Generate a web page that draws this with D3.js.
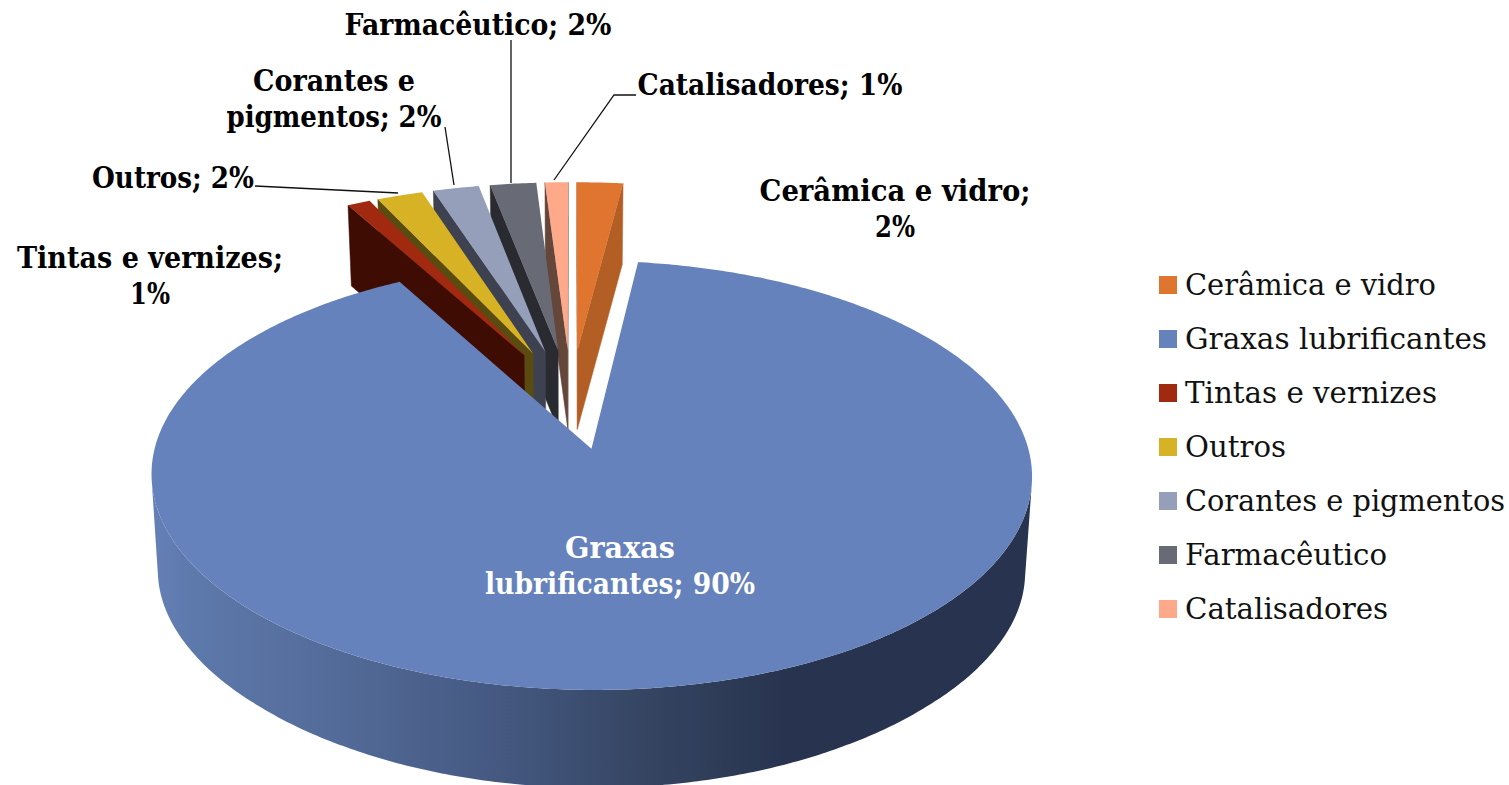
<!DOCTYPE html>
<html><head><meta charset="utf-8">
<style>html,body{margin:0;padding:0;background:#fff;overflow:hidden}svg{display:block}text{font-family:"DejaVu Serif",serif}</style>
<script src="https://cdn.jsdelivr.net/npm/d3@7"></script></head>
<body><svg id="c" width="1509" height="785"></svg>
<script>
const categories=["Cerâmica e vidro","Graxas lubrificantes","Tintas e vernizes","Outros","Corantes e pigmentos","Farmacêutico","Catalisadores"];
const values=[2,90,1,2,2,2,1];
const topColors=["#DF752E","#6682BC","#A0290F","#D6B224","#959FBA","#686B75","#FFA98B"];
const wallColors=["#B35E25","#2A3552","#3F0C04","#5A4C10","#3E4250","#2A2B30","#65463A"];
const labelLines=[["Cerâmica e vidro;","2%"],["Graxas","lubrificantes; 90%"],["Tintas e vernizes;","1%"],["Outros; 2%"],["Corantes e","pigmentos; 2%"],["Farmacêutico; 2%"],["Catalisadores; 1%"]];

const svg=d3.select("#c");
const W={cx:571,cy:398.5,rx:424,a:199,k:0.12,explode:0.25};
const pie=d3.pie().value(d=>d).sort(null).startAngle(0).endAngle(2*Math.PI);
const arcs=pie(values);
const depth=d3.scaleLinear().domain([-1.25,-1.1,-0.95,-0.7,-0.3,0.25,1.25]).range([98,95.5,94,94,96,79,81]);

const proj=(u,v,z=0)=>{
  const d=1+W.k*v;
  let x=W.cx+W.rx*u/d, y=W.cy-W.a*v/d;
  if(z){x=W.cx+(x-W.cx)*0.985; y+=depth(v);}
  return [x,y];
};
const area=p=>d3.polygonArea(p);
const line=d3.line();

function geom(a){
  const m=(a.startAngle+a.endAngle)/2;
  const ou=W.explode*Math.sin(m), ov=W.explode*Math.cos(m);
  const n=Math.max(4,Math.round((a.endAngle-a.startAngle)/0.01));
  const ang=d3.scaleLinear().domain([0,n]).range([a.startAngle,a.endAngle]);
  const rim=d3.range(n+1).map(i=>[ou+Math.sin(ang(i)),ov+Math.cos(ang(i))]);
  return {ou,ov,rim};
}

const grad=svg.append("defs").append("linearGradient").attr("id","wall")
  .attr("gradientUnits","userSpaceOnUse").attr("x1",151).attr("x2",1031).attr("y1",0).attr("y2",0);
[[0,"#6480B6"],[0.06,"#5C77A9"],[0.2,"#546C9A"],[0.4,"#445880"],[0.58,"#33435F"],[0.72,"#28344F"],[1,"#27334F"]]
  .forEach(s=>grad.append("stop").attr("offset",s[0]).attr("stop-color",s[1]));

function drawSlice(i){
  const g=svg.append("g").attr("class","slice");
  const {ou,ov,rim}=geom(arcs[i]);
  const apexT=proj(ou,ov), apexB=proj(ou,ov,1);
  const T=rim.map(p=>proj(p[0],p[1])), B=rim.map(p=>proj(p[0],p[1],1));
  const wall=(P,Pb,Q,Qb)=>{
    const q=[P,Q,Qb,Pb];
    if(area(q)>0) g.append("path").attr("d",line(q)+"Z").attr("fill",wallColors[i]).attr("stroke",wallColors[i]).attr("stroke-width",0.5);
  };
  wall(apexT,apexB,T[0],B[0]);
  wall(T[T.length-1],B[B.length-1],apexT,apexB);
  const vis=d3.range(T.length-1).filter(j=>area([T[j],T[j+1],B[j+1],B[j]])>0);
  if(vis.length){
    const tt=vis.map(j=>T[j]).concat([T[vis[vis.length-1]+1]]);
    const bb=vis.map(j=>B[j]).concat([B[vis[vis.length-1]+1]]);
    g.append("path").attr("d",line(tt.concat(bb.reverse()))+"Z")
      .attr("fill",i===1?"url(#wall)":wallColors[i]);
  }
  g.append("path").attr("d",line([apexT].concat(T))+"Z").attr("fill",topColors[i]);
}
[0,6,5,4,3,2,1].forEach(drawSlice);

const leaders=[
  [[255,186],[398,193]],
  [[445,127],[454,185]],
  [[511,40],[511,183]],
  [[636,95],[614,95],[554,180]]
];
svg.append("g").selectAll("path").data(leaders).join("path")
  .attr("d",d=>line(d)).attr("fill","none").attr("stroke","#111").attr("stroke-width",1.3);

const labelPos=[[895,201,[271,40]],[620,558,[110,270]],[150,268,[266,40]],[173,188,[162]],[334,91,[162,215]],[478,35,[267]],[770,95,[265]]];
const LH=36;
labelLines.forEach((lines,i)=>{
  const [x,y,w]=labelPos[i];
  const t=svg.append("g");
  lines.forEach((s,j)=>t.append("text").attr("x",x).attr("y",y+j*LH).attr("text-anchor","middle")
    .attr("font-size",29).attr("font-weight","bold").attr("fill",i===1?"#fff":"#000")
    .attr("textLength",w[j]).attr("lengthAdjust","spacingAndGlyphs").text(s));
});

const legY=d3.scalePoint().domain(categories).range([285,609]);
const legW=[251,302,252,101,320,202,203];
const leg=svg.append("g").selectAll("g").data(categories).join("g").attr("transform",d=>`translate(0,${legY(d)})`);
leg.append("rect").attr("x",1159).attr("y",-9).attr("width",18).attr("height",18).attr("fill",(d,i)=>topColors[i]);
leg.append("text").attr("x",1185).attr("y",10).attr("font-size",29).attr("fill","#111")
  .attr("textLength",(d,i)=>legW[i]).attr("lengthAdjust","spacingAndGlyphs").text(d=>d);
</script></body></html>
